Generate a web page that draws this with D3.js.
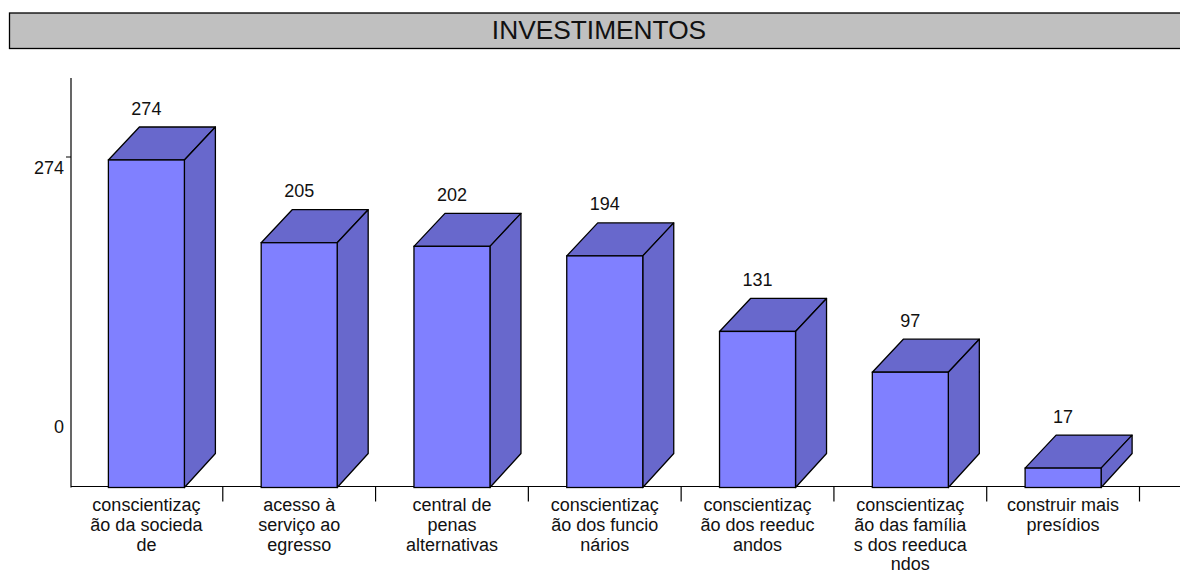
<!DOCTYPE html>
<html>
<head>
<meta charset="utf-8">
<script src="https://cdn.jsdelivr.net/npm/d3@7/dist/d3.min.js"></script>
<style>
  html, body { margin: 0; padding: 0; background: #fff; overflow: hidden; }
  svg { display: block; }
  text { font-family: "Liberation Sans", Arial, sans-serif; fill: #111; }
</style>
</head>
<body>
<div id="chart"></div>
<script>
const chartTitle = 'INVESTIMENTOS';
const categories = [
  ['conscientizaç', 'ão da socieda', 'de'],
  ['acesso à', 'serviço ao', 'egresso'],
  ['central de', 'penas', 'alternativas'],
  ['conscientizaç', 'ão dos funcio', 'nários'],
  ['conscientizaç', 'ão dos reeduc', 'andos'],
  ['conscientizaç', 'ão das família', 's dos reeduca', 'ndos'],
  ['construir mais', 'presídios']
];
const values = [274, 205, 202, 194, 131, 97, 17];
const yTickLabels = [0, 274];

const width = 1180;
const height = 571;
const colors = { front: '#8080ff', side: '#6868cc', title: '#c0c0c0' };
const plot = { left: 70, right: 1139.5, top: 78, bottom: 487.5 };
const depth = { x: 31, y: 33 };
const barWidth = 76;

const svg = d3.select('#chart').append('svg')
  .attr('width', width)
  .attr('height', height);

const x = d3.scaleBand()
  .domain(d3.range(values.length))
  .range([plot.left, plot.right]);

const y = d3.scaleLinear()
  .domain([0, 274])
  .range([488.5, 160]);

// the value labels on the y axis do not sit on their ticks
const yLabel = d3.scaleLinear()
  .domain([0, 274])
  .range([433, 174]);

// title bar
svg.append('rect')
  .attr('x', 9.5)
  .attr('y', 13)
  .attr('width', 1180)
  .attr('height', 35.5)
  .attr('fill', colors.title)
  .attr('stroke', '#000')
  .attr('stroke-width', 1.3);

svg.append('text')
  .attr('x', 599)
  .attr('y', 39)
  .attr('text-anchor', 'middle')
  .attr('font-size', 26.3)
  .text(chartTitle);

// axes
svg.append('line')
  .attr('x1', plot.left + 1)
  .attr('x2', plot.left + 1)
  .attr('y1', plot.top)
  .attr('y2', plot.bottom)
  .attr('stroke', '#000')
  .attr('stroke-width', 1.2);

svg.append('line')
  .attr('x1', plot.left + 1)
  .attr('x2', width)
  .attr('y1', plot.bottom - 1)
  .attr('y2', plot.bottom - 1)
  .attr('stroke', '#000')
  .attr('stroke-width', 1.2);

svg.append('line')
  .attr('x1', plot.left - 4)
  .attr('x2', plot.left + 1)
  .attr('y1', y(274) - 3)
  .attr('y2', y(274) - 3)
  .attr('stroke', '#000');

svg.selectAll('.x-tick')
  .data(values)
  .enter()
  .append('line')
  .attr('class', 'x-tick')
  .attr('x1', (d, i) => x(i) + x.bandwidth())
  .attr('x2', (d, i) => x(i) + x.bandwidth())
  .attr('y1', plot.bottom - 1)
  .attr('y2', plot.bottom + 14)
  .attr('stroke', '#000')
  .attr('stroke-width', 1.2);

svg.selectAll('.y-label')
  .data(yTickLabels)
  .enter()
  .append('text')
  .attr('class', 'y-label')
  .attr('x', 64)
  .attr('y', d => yLabel(d))
  .attr('text-anchor', 'end')
  .attr('font-size', 18)
  .text(d => d);

// bars
const bars = svg.selectAll('.bar')
  .data(values)
  .enter()
  .append('g')
  .attr('class', 'bar');

const frontLeft = (d, i) => x(i) + (x.bandwidth() - barWidth) / 2;

bars.append('path')
  .attr('d', (d, i) => {
    const l = frontLeft(d, i);
    const r = l + barWidth;
    const t = y(d);
    return `M${l},${t}L${l + depth.x},${t - depth.y}L${r + depth.x},${t - depth.y}L${r},${t}Z`;
  })
  .attr('fill', colors.side)
  .attr('stroke', '#000')
  .attr('stroke-width', 1.3)
  .attr('stroke-linejoin', 'round');

bars.append('path')
  .attr('d', (d, i) => {
    const r = frontLeft(d, i) + barWidth;
    const t = y(d);
    return `M${r},${t}L${r + depth.x},${t - depth.y}L${r + depth.x},${plot.bottom - depth.y - 1}L${r},${plot.bottom}Z`;
  })
  .attr('fill', colors.side)
  .attr('stroke', '#000')
  .attr('stroke-width', 1.3)
  .attr('stroke-linejoin', 'round');

bars.append('rect')
  .attr('x', frontLeft)
  .attr('y', d => y(d))
  .attr('width', barWidth)
  .attr('height', d => plot.bottom - y(d))
  .attr('fill', colors.front)
  .attr('stroke', '#000')
  .attr('stroke-width', 1.3);

bars.append('text')
  .attr('x', (d, i) => frontLeft(d, i) + barWidth / 2)
  .attr('y', d => y(d) - 45.5)
  .attr('text-anchor', 'middle')
  .attr('font-size', 18)
  .text(d => d);

// category labels, wrapped the way the original breaks them
const labels = svg.selectAll('.x-label')
  .data(categories)
  .enter()
  .append('text')
  .attr('class', 'x-label')
  .attr('text-anchor', 'middle')
  .attr('font-size', 18);

labels.selectAll('tspan')
  .data((d, i) => d.map(line => ({ line, i })))
  .enter()
  .append('tspan')
  .attr('x', d => frontLeft(null, d.i) + barWidth / 2)
  .attr('y', (d, j) => 511 + j * 19.8)
  .text(d => d.line);
</script>
</body>
</html>
